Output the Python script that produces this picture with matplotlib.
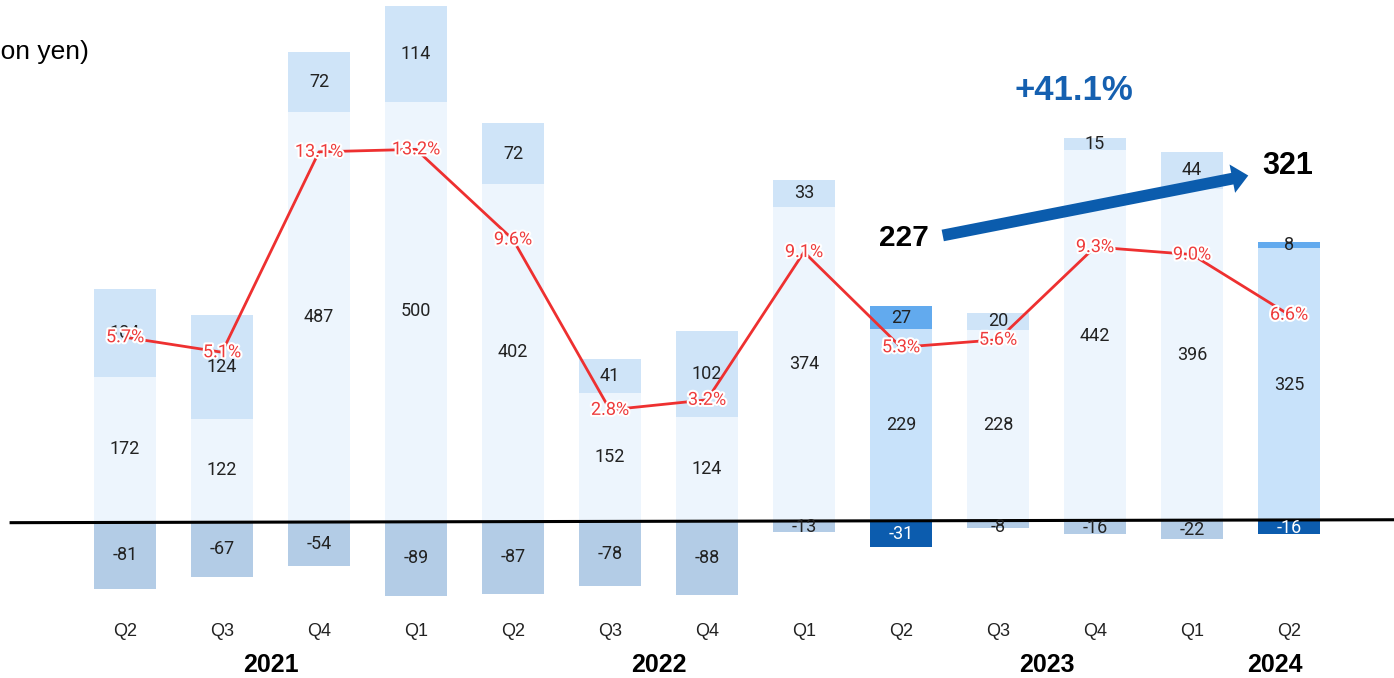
import matplotlib
matplotlib.use("Agg")
import matplotlib.pyplot as plt
import matplotlib.patheffects as pe
from matplotlib.patches import FancyArrowPatch

plt.rcParams['font.family'] = ['Roboto', 'DejaVu Sans']

quarters = ["Q2", "Q3", "Q4", "Q1", "Q2", "Q3", "Q4", "Q1", "Q2", "Q3", "Q4", "Q1", "Q2"]
years = ["2021", "2022", "2023", "2024"]
year_pos = [1.5, 5.5, 9.5, 11.85]

base_values = [172, 122, 487, 500, 402, 152, 124, 374, 229, 228, 442, 396, 325]
top_values = [104, 124, 72, 114, 72, 41, 102, 33, 27, 20, 15, 44, 8]
neg_values = [-81, -67, -54, -89, -87, -78, -88, -13, -31, -8, -16, -22, -16]
margin_pct = [5.7, 5.1, 13.1, 13.2, 9.6, 2.8, 3.2, 9.1, 5.3, 5.6, 9.3, 9.0, 6.6]
highlight = [False] * 8 + [True] + [False] * 3 + [True]

start_value, end_value, growth = 227, 321, "+41.1%"

W, H = 1394, 678
fig = plt.figure(figsize=(W / 100, H / 100), dpi=100)
ax = fig.add_axes([0, 0, 1, 1])
ax.set_axis_off()

# pixel geometry of the plot
x0_px, dx_px = 125.0, 97.0
zero_px, px_per_unit = 521.0, 0.839
ax.set_xlim(-x0_px / dx_px, (W - x0_px) / dx_px)
ax.set_ylim((zero_px - H) / px_per_unit, zero_px / px_per_unit)

# secondary axis for margin percentages
pct_zero_px, px_per_pct = 480.0, 25.05
ax2 = ax.twinx()
ax2.set_axis_off()
ax2.set_ylim((pct_zero_px - H) / px_per_pct, pct_zero_px / px_per_pct)

x = list(range(len(quarters)))
bw = 0.64

pale = "#edf5fd"
top_c = "#cfe4f8"
neg_c = "#b3cce6"
hl_base = "#c8e2fa"
hl_top = "#62aaee"
hl_neg = "#0c5cae"

for i in x:
    hb = highlight[i]
    ax.bar(i, base_values[i], width=bw, color=hl_base if hb else pale, zorder=1)
    ax.bar(i, top_values[i], bottom=base_values[i], width=bw,
           color=hl_top if hb else top_c, zorder=1)
    ax.bar(i, neg_values[i], width=bw, color=hl_neg if hb else neg_c, zorder=1)
    ax.text(i, base_values[i] / 2, str(base_values[i]), ha="center", va="center",
            fontsize=13, color="#222222", zorder=3)
    ax.text(i, base_values[i] + top_values[i] / 2, str(top_values[i]), ha="center",
            va="center", fontsize=13, color="#222222", zorder=3)
    ax.text(i, min(neg_values[i] / 2, -7), str(neg_values[i]), ha="center",
            va="center", fontsize=13, color="white" if hb else "#222222", zorder=3)

# zero line
ax.plot([-1.19, (W - x0_px) / dx_px], [-2.0, 1.5], color="black", lw=2.2,
        solid_capstyle="butt", zorder=2)

# operating margin line
ax2.plot(x, margin_pct, color="#ee3030", lw=2.0, zorder=4)
for i, p in zip(x, margin_pct):
    ax2.text(i, p, f"{p:.1f}%", ha="center", va="center", fontsize=13,
             color="#ee3b3b", zorder=5,
             path_effects=[pe.withStroke(linewidth=3, foreground="white")])

# quarter and year labels
for i, q in zip(x, quarters):
    ax.text(i, (zero_px - 632) / px_per_unit, q, ha="center", va="center",
            fontsize=13, color="#222222", family=["Liberation Sans", "DejaVu Sans"])
for yp, yr in zip(year_pos, years):
    ax.text(yp, (zero_px - 665) / px_per_unit, yr, ha="center", va="center",
            fontsize=18, fontweight="bold", color="black",
            family=["Liberation Sans", "DejaVu Sans"])

# unit label
fig.text(89 / W, 1 - 52 / H, "(100 million yen)", ha="right", va="center",
         fontsize=19, color="black", family=["Liberation Sans", "DejaVu Sans"])

# growth arrow and annotations
px2data = lambda px, py: ((px - x0_px) / dx_px, (zero_px - py) / px_per_unit)
tail = px2data(940, 236)
tip = px2data(1251, 175)
arrow = FancyArrowPatch(tail, tip,
                        arrowstyle="simple,head_width=1.6,head_length=0.9,tail_width=0.65",
                        mutation_scale=13, color="#0b5cad", lw=0, zorder=6)
ax.add_patch(arrow)
ax.text(*px2data(904, 238), str(start_value), ha="center", va="center",
        fontsize=21.5, fontweight="bold", color="black",
        family=["Liberation Sans", "DejaVu Sans"], zorder=6)
ax.text(*px2data(1288, 166), str(end_value), ha="center", va="center",
        fontsize=22, fontweight="bold", color="black",
        family=["Liberation Sans", "DejaVu Sans"], zorder=6)
ax.text(*px2data(1074, 90), growth, ha="center", va="center",
        fontsize=25, fontweight="bold", color="#1560b0",
        family=["Liberation Sans", "DejaVu Sans"], zorder=6)

fig.savefig("out.png", dpi=100)
